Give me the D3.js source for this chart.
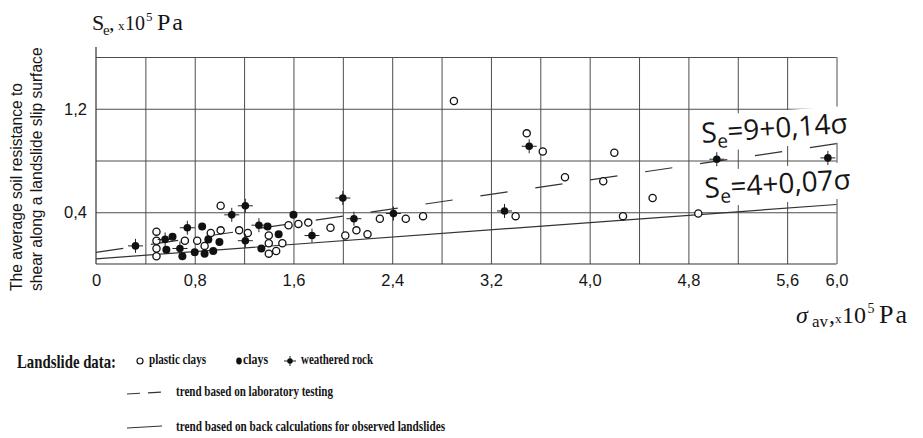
<!DOCTYPE html>
<html>
<head>
<meta charset="utf-8">
<script src="https://cdn.jsdelivr.net/npm/d3@7/dist/d3.min.js"></script>
<style>
  body { margin: 0; background: #fff; }
  svg text { fill: #151515; }
  .sans { font-family: "Liberation Sans", Arial, sans-serif; }
  .serif { font-family: "Liberation Serif", "Times New Roman", serif; }
  .eq { font-family: "Open Sans", "Noto Sans", sans-serif; }
  .grid line { stroke: #4d4d4d; stroke-width: 1; }
  .grid path { display: none; }
</style>
</head>
<body>
<svg id="chart" width="923" height="438"></svg>
<script>
// sigma (x10^5 Pa) tick labels and grid positions
var sigmaLabels = [0, 0.8, 1.6, 2.4, 3.2, 4.0, 4.8, 5.6, 6.0];
var sigmaGrid = [0.4, 0.8, 1.2, 1.6, 2.0, 2.4, 2.8, 3.2, 3.6, 4.0, 4.4, 4.8, 5.2, 5.6, 6.0];
var seLabels = [0.4, 1.2];
var seGrid = [0.4, 0.8, 1.2, 1.6];

// landslide data, [sigma, Se]
var plasticClays = [
  [0.49, 0.25], [0.49, 0.18], [0.49, 0.12], [0.49, 0.06], [0.72, 0.18],
  [0.82, 0.18], [0.88, 0.14], [0.93, 0.24], [1.01, 0.45], [1.01, 0.26],
  [1.16, 0.26], [1.23, 0.24], [1.40, 0.22], [1.40, 0.16], [1.40, 0.08],
  [1.46, 0.10], [1.51, 0.16], [1.56, 0.30], [1.64, 0.31], [1.72, 0.32],
  [1.90, 0.28], [2.02, 0.22], [2.11, 0.26], [2.20, 0.23], [2.30, 0.35],
  [2.51, 0.35], [2.65, 0.37], [2.90, 1.26], [3.40, 0.37], [3.49, 1.01],
  [3.62, 0.87], [3.80, 0.67], [4.11, 0.64], [4.20, 0.86], [4.27, 0.37],
  [4.51, 0.51], [4.88, 0.39]
];
var clays = [
  [0.62, 0.21], [0.57, 0.11], [0.70, 0.06], [0.86, 0.29], [0.80, 0.09],
  [0.88, 0.08], [0.91, 0.19], [1.00, 0.17], [0.95, 0.10], [1.39, 0.29],
  [1.34, 0.12], [1.48, 0.23], [1.60, 0.38]
];
var weatheredRock = [
  [0.32, 0.14], [0.56, 0.19], [0.68, 0.12], [0.74, 0.28], [1.10, 0.38],
  [1.21, 0.45], [1.21, 0.18], [1.32, 0.30], [1.75, 0.22], [2.00, 0.51],
  [2.09, 0.35], [2.41, 0.39], [3.31, 0.41], [3.51, 0.91], [5.03, 0.81],
  [5.93, 0.82]
];

// trend lines, end points [sigma, Se]
var labTrend = [[0, 0.09], [6.0, 0.93]];
var backTrend = [[0, 0.04], [6.0, 0.46]];

var svg = d3.select('#chart');

var x = d3.scaleLinear().domain([0, 6]).range([96, 836.5]);
var y = d3.scaleLinear().domain([0, 1.6]).range([264, 57]);

function comma(d) {
  return d === 0 ? '0' : d.toFixed(1).replace('.', ',');
}

// grid
svg.append('g')
    .attr('class', 'grid')
    .attr('transform', 'translate(0,' + y(0) + ')')
    .call(d3.axisBottom(x).tickValues(sigmaGrid).tickSize(-(y(0) - y(1.6))).tickFormat(''));
svg.append('g')
    .attr('class', 'grid')
    .attr('transform', 'translate(' + x(0) + ',0)')
    .call(d3.axisLeft(y).tickValues(seGrid).tickSize(-(x(6) - x(0))).tickFormat(''));

// axis lines
svg.append('line')
    .attr('x1', x(0)).attr('x2', x(0))
    .attr('y1', 47).attr('y2', y(0))
    .attr('stroke', '#333').attr('stroke-width', 1.2);
svg.append('line')
    .attr('x1', x(0)).attr('x2', x(6))
    .attr('y1', y(0)).attr('y2', y(0))
    .attr('stroke', '#333').attr('stroke-width', 1.2);

// tick labels
var xAxis = svg.append('g')
    .attr('transform', 'translate(0,' + y(0) + ')')
    .call(d3.axisBottom(x).tickValues(sigmaLabels).tickSize(0).tickPadding(10).tickFormat(comma));
xAxis.select('.domain').remove();
xAxis.selectAll('text')
    .attr('class', 'sans')
    .style('font-size', '16.5px')
    .attr('fill', '#151515');

var yAxis = svg.append('g')
    .attr('transform', 'translate(' + x(0) + ',0)')
    .call(d3.axisLeft(y).tickValues(seLabels).tickSize(0).tickPadding(9).tickFormat(comma));
yAxis.select('.domain').remove();
yAxis.selectAll('text')
    .attr('class', 'sans')
    .style('font-size', '16.5px')
    .attr('fill', '#151515');

// equation boxes (white background hides the grid behind them)
function equation(x0, y0, angle) {
  var g = svg.append('g')
      .attr('transform', 'rotate(' + angle + ',' + x0 + ',' + y0 + ')');
  g.append('rect')
      .attr('x', x0 - 4).attr('y', y0 - 27)
      .attr('width', 152).attr('height', 36)
      .attr('fill', '#fff');
  return g;
}
var eq1 = equation(702, 143, -4);
var eq2 = equation(705, 198, -3.5);

// trend lines
var line = d3.line()
    .x(function(d) { return x(d[0]); })
    .y(function(d) { return y(d[1]); });

svg.append('path')
    .datum(labTrend)
    .attr('d', line)
    .attr('fill', 'none')
    .attr('stroke', '#333')
    .attr('stroke-width', 1.2)
    .attr('stroke-dasharray', '27.5,28');
svg.append('path')
    .datum(backTrend)
    .attr('d', line)
    .attr('fill', 'none')
    .attr('stroke', '#333')
    .attr('stroke-width', 1.2);

// points
svg.append('g').selectAll('circle')
    .data(plasticClays)
  .enter().append('circle')
    .attr('cx', function(d) { return x(d[0]); })
    .attr('cy', function(d) { return y(d[1]); })
    .attr('r', 3.6)
    .attr('fill', '#fff')
    .attr('stroke', '#111')
    .attr('stroke-width', 1.3);

svg.append('g').selectAll('circle')
    .data(clays)
  .enter().append('circle')
    .attr('cx', function(d) { return x(d[0]); })
    .attr('cy', function(d) { return y(d[1]); })
    .attr('r', 4)
    .attr('fill', '#111');

var rock = svg.append('g').selectAll('g')
    .data(weatheredRock)
  .enter().append('g')
    .attr('transform', function(d) { return 'translate(' + x(d[0]) + ',' + y(d[1]) + ')'; });
rock.append('path')
    .attr('d', 'M-7.5,0H7.5M0,-7V7')
    .attr('stroke', '#222')
    .attr('stroke-width', 1);
rock.append('circle')
    .attr('r', 3.8)
    .attr('fill', '#111');

// equation texts
function eqText(g, x0, y0, body) {
  var t = g.append('text')
      .attr('class', 'eq')
      .attr('x', x0).attr('y', y0)
      .style('font-size', '28px');
  t.append('tspan').text('S');
  t.append('tspan').attr('dy', 6).style('font-size', '19px').text('e');
  t.append('tspan').attr('dy', -6).text(body);
}
eqText(eq1, 702, 143, '=9+0,14σ');
eqText(eq2, 705, 198, '=4+0,07σ');

// axis titles (pieces placed one by one)
var yt = svg.append('text')
    .attr('class', 'serif')
    .attr('y', 30)
    .style('font-size', '22px');
yt.append('tspan').attr('x', 92).text('S');
yt.append('tspan').attr('x', 103).attr('dy', 5).style('font-size', '15px').text('e');
yt.append('tspan').attr('x', 109).attr('dy', -5).text(',');
yt.append('tspan').attr('x', 118).style('font-size', '13px').text('x');
yt.append('tspan').attr('x', 125).style('font-size', '20px').text('10');
yt.append('tspan').attr('x', 146).attr('dy', -9).style('font-size', '13px').text('5');
yt.append('tspan').attr('x', 157).attr('dy', 9).style('font-size', '24px').style('letter-spacing', '2px').text('Pa');

var xt = svg.append('text')
    .attr('class', 'serif')
    .attr('y', 323)
    .style('font-size', '24px');
xt.append('tspan').attr('x', 796).style('font-style', 'italic').text('σ');
xt.append('tspan').attr('x', 812).attr('dy', 4).style('font-size', '17px').text('av');
xt.append('tspan').attr('x', 829).attr('dy', -4).text(',');
xt.append('tspan').attr('x', 835).style('font-size', '13px').text('x');
xt.append('tspan').attr('x', 842).style('font-size', '24px').text('10');
xt.append('tspan').attr('x', 867.5).attr('dy', -10).style('font-size', '14px').text('5');
xt.append('tspan').attr('x', 879).attr('dy', 10).style('font-size', '26px').style('letter-spacing', '2px').text('Pa');

var titleLines = ['The average soil resistance to', 'shear along a landslide slip surface'];
svg.append('g').selectAll('text')
    .data(titleLines)
  .enter().append('text')
    .attr('class', 'sans')
    .attr('transform', function(d, i) { return 'translate(' + (22 + i * 19.5) + ',291) rotate(-90)'; })
    .style('font-size', '15.6px')
    .text(function(d) { return d; });

// legend
var legend = svg.append('g').attr('class', 'serif').style('font-weight', 'bold');
legend.append('text')
    .attr('x', 17).attr('y', 368)
    .attr('textLength', 99).attr('lengthAdjust', 'spacingAndGlyphs')
    .style('font-size', '19px')
    .text('Landslide data:');

legend.append('circle')
    .attr('cx', 140).attr('cy', 361).attr('r', 3)
    .attr('fill', '#fff').attr('stroke', '#111').attr('stroke-width', 1.2);
legend.append('text')
    .attr('x', 149).attr('y', 364)
    .attr('textLength', 57).attr('lengthAdjust', 'spacingAndGlyphs')
    .style('font-size', '14px')
    .text('plastic clays');

legend.append('ellipse')
    .attr('cx', 239).attr('cy', 361).attr('rx', 2.8).attr('ry', 3.4)
    .attr('fill', '#111');
legend.append('text')
    .attr('x', 243).attr('y', 364)
    .attr('textLength', 25).attr('lengthAdjust', 'spacingAndGlyphs')
    .style('font-size', '14px')
    .text('clays');

legend.append('path')
    .attr('d', 'M284,361H296M290,356V366')
    .attr('stroke', '#222').attr('stroke-width', 1);
legend.append('circle')
    .attr('cx', 290).attr('cy', 361).attr('r', 2.8)
    .attr('fill', '#111');
legend.append('text')
    .attr('x', 301).attr('y', 364)
    .attr('textLength', 72).attr('lengthAdjust', 'spacingAndGlyphs')
    .style('font-size', '14px')
    .text('weathered rock');

legend.append('line')
    .attr('x1', 127).attr('y1', 394).attr('x2', 162).attr('y2', 392)
    .attr('stroke', '#333').attr('stroke-width', 1.2)
    .attr('stroke-dasharray', '13,8');
legend.append('text')
    .attr('x', 176).attr('y', 396)
    .attr('textLength', 157).attr('lengthAdjust', 'spacingAndGlyphs')
    .style('font-size', '15px')
    .text('trend based on laboratory testing');

legend.append('line')
    .attr('x1', 127).attr('y1', 428).attr('x2', 162).attr('y2', 426)
    .attr('stroke', '#333').attr('stroke-width', 1.2);
legend.append('text')
    .attr('x', 176).attr('y', 431)
    .attr('textLength', 269).attr('lengthAdjust', 'spacingAndGlyphs')
    .style('font-size', '15px')
    .text('trend based on back calculations for observed landslides');
</script>
</body>
</html>
